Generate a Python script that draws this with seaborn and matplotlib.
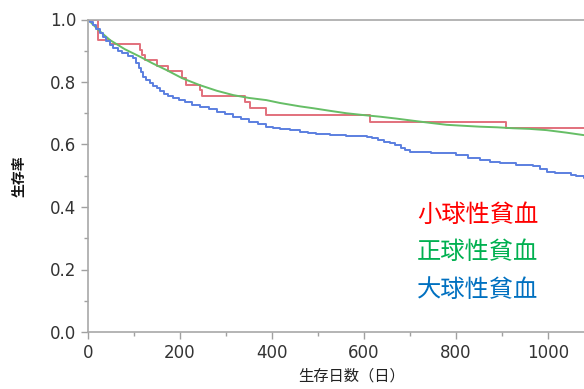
import numpy as np
import pandas as pd
import seaborn as sns
import matplotlib.pyplot as plt
from matplotlib.ticker import MultipleLocator

# 小球性貧血 (red)
micro_t = [0, 22, 48, 113, 118, 124, 149, 174, 204, 214, 243, 247, 341, 352, 388, 613, 909, 1150]
micro_s = [1.0, 0.934, 0.922, 0.902, 0.887, 0.870, 0.851, 0.834, 0.812, 0.789, 0.774, 0.755, 0.737, 0.716, 0.694, 0.673, 0.654, 0.654]

# 正球性貧血 (green)
normo_t = [0, 10, 26, 48, 80, 113, 140, 171, 205, 243, 280, 316, 350, 388, 417, 461, 490, 525, 562, 600,
           635, 670, 707, 745, 780, 815, 852, 890, 924, 960, 997, 1040, 1078]
normo_s = [1.0, 0.985, 0.962, 0.934, 0.905, 0.881, 0.860, 0.838, 0.812, 0.790, 0.772, 0.758, 0.749, 0.742,
           0.733, 0.722, 0.716, 0.708, 0.700, 0.694, 0.689, 0.683, 0.676, 0.669, 0.663, 0.660, 0.657, 0.655,
           0.652, 0.650, 0.646, 0.638, 0.630]

# 大球性貧血 (blue)
macro_t = [0, 5, 10, 18, 26, 33, 40, 48, 55, 65, 75, 86, 98, 104, 110, 115, 120, 127, 135, 142, 149, 157,
           165, 175, 185, 197, 210, 226, 243, 262, 280, 298, 316, 333, 350, 370, 388, 402, 417, 440, 461,
           478, 495, 510, 526, 560, 590, 606, 618, 630, 644, 657, 668, 680, 690, 700, 745, 801, 826, 852,
           875, 896, 930, 968, 983, 997, 1015, 1033, 1050, 1060, 1078]
macro_s = [1.0, 0.991, 0.982, 0.969, 0.956, 0.943, 0.930, 0.918, 0.908, 0.900, 0.892, 0.884, 0.876, 0.861,
           0.845, 0.831, 0.817, 0.806, 0.796, 0.788, 0.780, 0.771, 0.763, 0.755, 0.748, 0.741, 0.735, 0.728,
           0.721, 0.713, 0.705, 0.697, 0.689, 0.681, 0.673, 0.665, 0.657, 0.654, 0.650, 0.645, 0.641, 0.638,
           0.635, 0.633, 0.630, 0.628, 0.627, 0.625, 0.620, 0.614, 0.609, 0.604, 0.597, 0.590, 0.584, 0.577,
           0.572, 0.566, 0.558, 0.550, 0.545, 0.540, 0.535, 0.530, 0.521, 0.513, 0.510, 0.508, 0.504, 0.500,
           0.492]

labels = ["小球性貧血", "正球性貧血", "大球性貧血"]
line_colors = ["#E2707C", "#66BE66", "#5B7FE0"]
text_colors = ["#FF0000", "#00B050", "#0070C0"]

sns.set_style("white")
plt.rcParams['font.family'] = ['Noto Sans CJK JP', 'DejaVu Sans']

fig = plt.figure(figsize=(5.84, 3.89), dpi=100)
ax = fig.add_axes([88 / 584, 1 - 332 / 389, (616 - 88) / 584, (332 - 19.5) / 389])

sns.lineplot(x=micro_t, y=micro_s, ax=ax, color=line_colors[0], lw=1.4, drawstyle="steps-post", estimator=None)
sns.lineplot(x=normo_t, y=normo_s, ax=ax, color=line_colors[1], lw=1.4, estimator=None)
sns.lineplot(x=macro_t, y=macro_s, ax=ax, color=line_colors[2], lw=1.4, drawstyle="steps-post", estimator=None)

ax.set_xlim(0, 1148)
ax.set_ylim(0, 1.0)
ax.xaxis.set_major_locator(MultipleLocator(200))
ax.xaxis.set_minor_locator(MultipleLocator(100))
ax.set_yticks(np.arange(0, 1.01, 0.2))
ax.set_yticklabels([f"{v:.1f}" for v in np.arange(0, 1.01, 0.2)])
ax.yaxis.set_minor_locator(MultipleLocator(0.1))
ax.tick_params(which="major", length=5, width=1, color="#A0A0A0", labelsize=12, labelcolor="#333333",
               bottom=True, left=True, direction="out")
ax.tick_params(which="minor", length=3, width=1, color="#A0A0A0", bottom=True, left=True, direction="out")
for lbl in ax.get_xticklabels() + ax.get_yticklabels():
    lbl.set_family(["DejaVu Sans"])

for side in ["left", "bottom", "top"]:
    ax.spines[side].set_color("#A8A8A8")
    ax.spines[side].set_linewidth(1.2)
ax.spines["right"].set_visible(False)

ax.set_xlabel("生存日数（日）", fontsize=11, color="#222222", labelpad=4)
ax.set_ylabel("生存率", fontsize=10, color="#111111", labelpad=17, fontweight="bold")

for i, (lab, col) in enumerate(zip(labels, text_colors)):
    ax.text(715, 0.375 - i * 0.12, lab, color=col, fontsize=17.5, ha="left", va="center")

fig.savefig("out.png", dpi=100)
